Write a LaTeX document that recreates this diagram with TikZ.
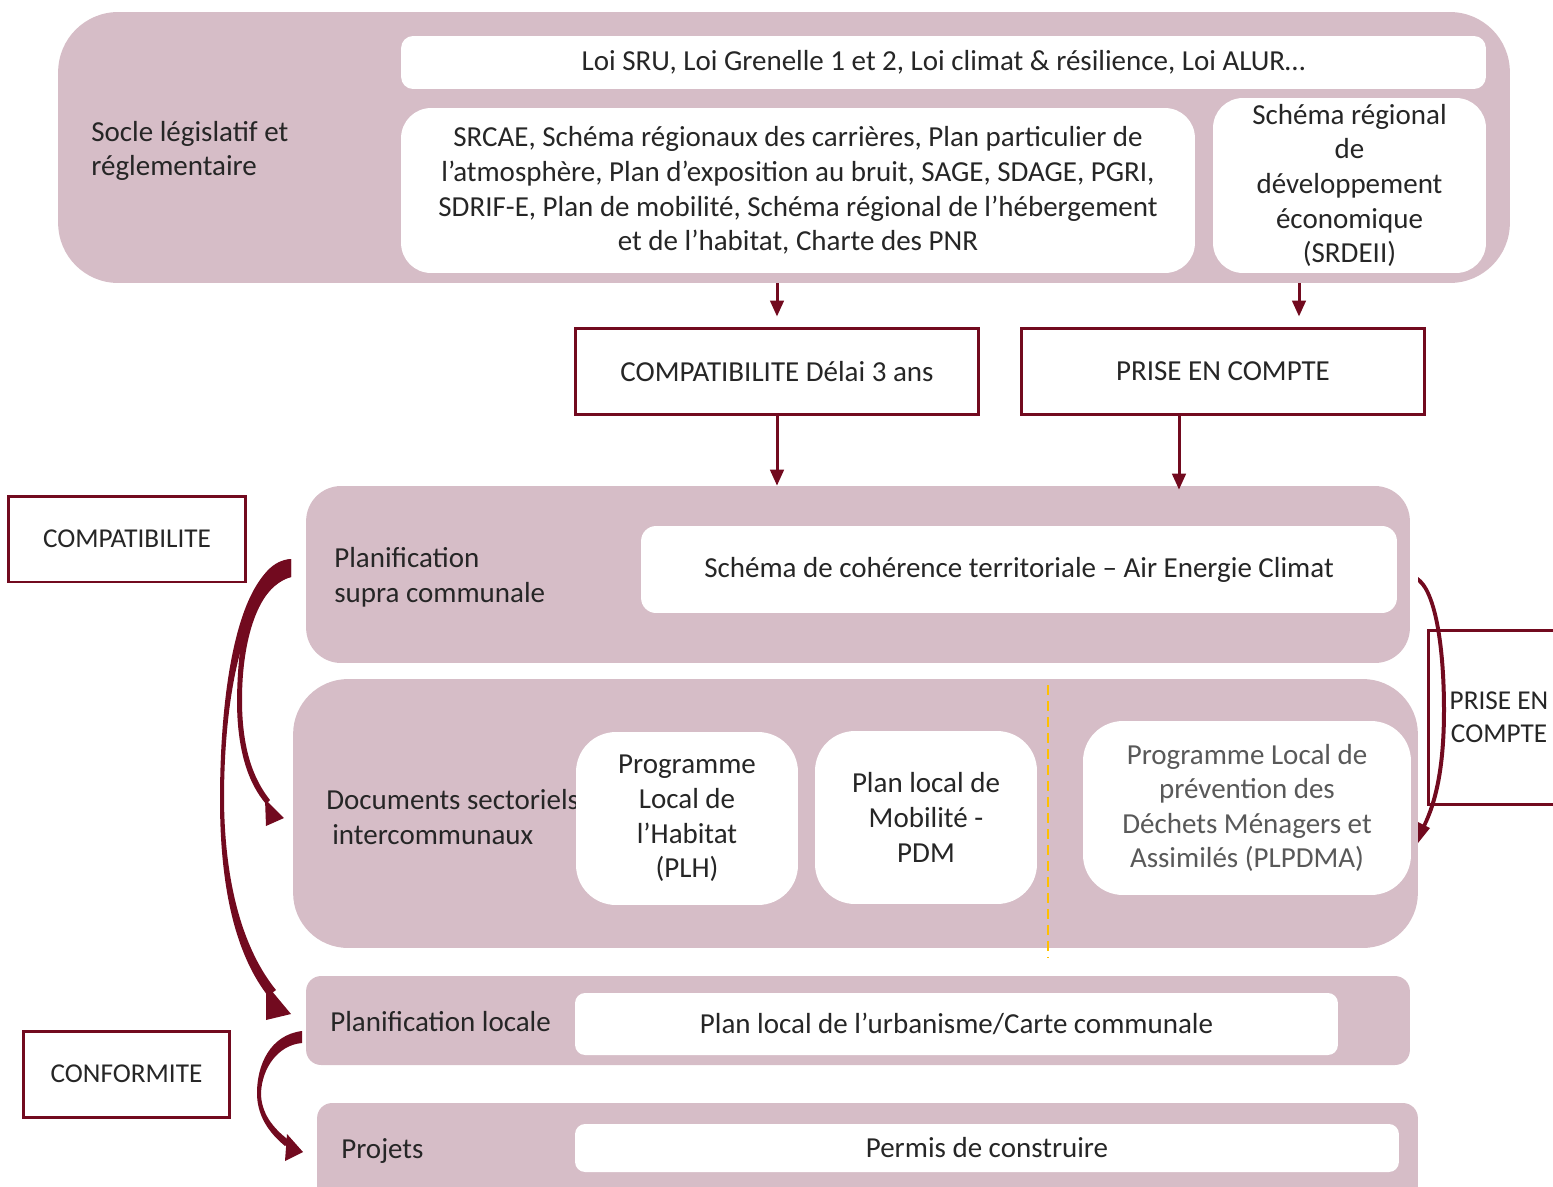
\documentclass[tikz,border=0pt]{standalone}
\usepackage{fontspec}
\setmainfont{Carlito}
\usetikzlibrary{arrows.meta}

\definecolor{socle}{RGB}{214,189,199}
\definecolor{bordeaux}{RGB}{114,10,31}
\definecolor{texte}{RGB}{38,38,38}
\definecolor{texteclair}{RGB}{89,89,89}
\definecolor{tiret}{RGB}{255,192,0}

\tikzset{
  bloc/.style={fill=socle, draw=none, rounded corners=#1},
  blanc/.style={fill=white, draw=none, rounded corners=#1, align=center, text=texte},
  cadre/.style={draw=bordeaux, line width=0.06cm, fill=white, align=center, text=texte},
  petit/.style={font=\fontsize{15.5}{18.8}\selectfont},
  titre/.style={anchor=west, align=left, text=texte, inner sep=0pt},
  fleche/.style={draw=bordeaux, line width=0.06cm, -{Triangle[width=0.27cm,length=0.32cm]}},
  courbe/.style={fill=bordeaux, draw=none}
}

\begin{document}
\begin{tikzpicture}[x=0.02cm, y=-0.02cm, font=\fontsize{16.5}{19.7}\selectfont]
    \useasboundingbox (0,0) rectangle (1553,1187);
    \clip (0,0) rectangle (1553,1187);

    % socle
    \node[bloc=1.2cm, minimum width=29.04cm, minimum height=5.42cm] (socle) at (784,147.5) {};
    \node[titre] (soclet) at (91,151) {Socle législatif et\\réglementaire};
    \node[blanc=0.24cm, minimum width=21.7cm, minimum height=1.06cm] (lois) at (943.5,62.5)
      {Loi SRU, Loi Grenelle 1 et 2, Loi climat \& résilience, Loi ALUR…};
    \node[blanc=0.6cm, minimum width=15.88cm, minimum height=3.3cm] (srcae) at (798,190.5)
      {SRCAE, Schéma régionaux des carrières, Plan particulier de\\
       l’atmosphère, Plan d’exposition au bruit, SAGE, SDAGE, PGRI,\\
       SDRIF-E, Plan de mobilité, Schéma régional de l’hébergement\\
       et de l’habitat, Charte des PNR};
    \node[blanc=0.6cm, minimum width=5.46cm, minimum height=3.5cm] (srdeii) at (1349.5,185.5)
      {Schéma régional\\de\\développement\\économique\\(SRDEII)};

    % rapports
    \node[cadre, minimum width=8.08cm, minimum height=1.74cm] (compat) at (777,371.5)
      {COMPATIBILITE Délai 3 ans};
    \node[cadre, minimum width=8.08cm, minimum height=1.74cm] (prise) at (1223,371.5)
      {PRISE EN COMPTE};
    \coordinate (axeprise) at (1299,300);
    \coordinate (axesupra) at (1179,450);
    \draw[fleche, shorten >=0.2cm] (socle.south -| compat.north) -- (compat.north);
    \draw[fleche, shorten >=0.2cm] (socle.south -| axeprise) -- (prise.north -| axeprise);

    % planification supra communale
    \node[bloc=0.7cm, minimum width=22.08cm, minimum height=3.54cm] (supra) at (858,574.5) {};
    \node[titre] (suprat) at (334,577) {Planification\\supra communale};
    \node[blanc=0.3cm, minimum width=15.12cm, minimum height=1.74cm] (scot) at (1019,569.5)
      {Schéma de cohérence territoriale – Air Energie Climat};
    \draw[fleche] (compat.south) -- (supra.north -| compat.south);
    \draw[fleche] (prise.south -| axesupra) -- ([yshift=-0.08cm]supra.north -| axesupra);

    % documents sectoriels
    \node[bloc=1.1cm, minimum width=22.5cm, minimum height=5.38cm] (docs) at (855.5,813.5) {};
    \node[titre] (docst) at (326,817) {Documents sectoriels\\\hspace{0.12cm}intercommunaux};
    \node[blanc=0.8cm, minimum width=4.44cm, minimum height=3.46cm] (plh) at (687,818.5)
      {Programme\\Local de\\l’Habitat\\(PLH)};
    \node[blanc=0.8cm, minimum width=4.44cm, minimum height=3.46cm] (pdm) at (926,817.5)
      {Plan local de\\Mobilité -\\PDM};
    \node[blanc=0.8cm, minimum width=6.56cm, minimum height=3.48cm, text=texteclair] (plpdma) at (1247,808)
      {Programme Local de\\prévention des\\Déchets Ménagers et\\Assimilés (PLPDMA)};
    \draw[tiret, line width=0.04cm, dash pattern=on 0.2cm off 0.12cm] (1048,685) -- (1048,957);

    % planification locale
    \node[bloc=0.3cm, minimum width=22.08cm, minimum height=1.78cm] (locale) at (858,1020.5) {};
    \node[titre] (localet) at (330,1022) {Planification locale};
    \node[blanc=0.2cm, minimum width=15.26cm, minimum height=1.24cm] (plu) at (956.5,1024)
      {Plan local de l’urbanisme/Carte communale};

    % projets
    \node[bloc=0.3cm, minimum width=22.02cm, minimum height=2.04cm] (projets) at (867.5,1154) {};
    \node[titre] (projetst) at (341,1151) {Projets};
    \node[blanc=0.2cm, minimum width=16.48cm, minimum height=0.96cm] (permis) at (987,1148)
      {Permis de construire};

    % cadres lateraux
    \node[cadre, petit, minimum width=4.76cm, minimum height=1.72cm] (compatg) at (127,539) {COMPATIBILITE};
    \node[cadre, petit, minimum width=4.14cm, minimum height=1.72cm] (conform) at (126.5,1074) {CONFORMITE};
    \node[cadre, petit, minimum width=2.84cm, minimum height=3.5cm] (priseg) at (1499,717.5) {PRISE EN\\COMPTE};

    % fleches courbes
    %% vers documents sectoriels
    \fill[courbe] (291,559) .. controls (255,561) and (238,620) .. (237,700)
      .. controls (237,750) and (248,783) .. (266,804)
      -- (270,800) .. controls (254,780) and (242,750) .. (242,700)
      .. controls (242,640) and (258,585) .. (291,577) -- cycle;
    \fill[courbe] (265,799) -- (284,818) -- (266,826) -- cycle;
    %% vers planification locale
    \fill[courbe] (291,559) .. controls (240,565) and (220,680) .. (220,800)
      .. controls (220,900) and (240,960) .. (268,996)
      -- (276,990) .. controls (250,958) and (225,900) .. (224,800)
      .. controls (224,690) and (245,590) .. (291,577) -- cycle;
    \fill[courbe] (266,984) -- (291,1014) -- (266,1020) -- cycle;
    %% vers projets
    \fill[courbe] (302,1031) .. controls (270,1035) and (257,1065) .. (257,1093)
      .. controls (257,1115) and (268,1132) .. (285,1146)
      -- (290,1141) .. controls (272,1128) and (261,1112) .. (261,1093)
      .. controls (262,1068) and (278,1045) .. (302,1043) -- cycle;
    \fill[courbe] (287,1134) -- (303,1152) -- (285,1161) -- cycle;
    %% prise en compte
    \fill[courbe] (1418,577) .. controls (1438,590) and (1446,650) .. (1446,710)
      .. controls (1446,770) and (1437,805) .. (1425,828)
      -- (1422,826) .. controls (1433,803) and (1442,770) .. (1442,710)
      .. controls (1442,650) and (1434,595) .. (1418,582) -- cycle;
    \fill[courbe] (1418,822) -- (1430,828) -- (1418,843) -- cycle;
\end{tikzpicture}
\end{document}
